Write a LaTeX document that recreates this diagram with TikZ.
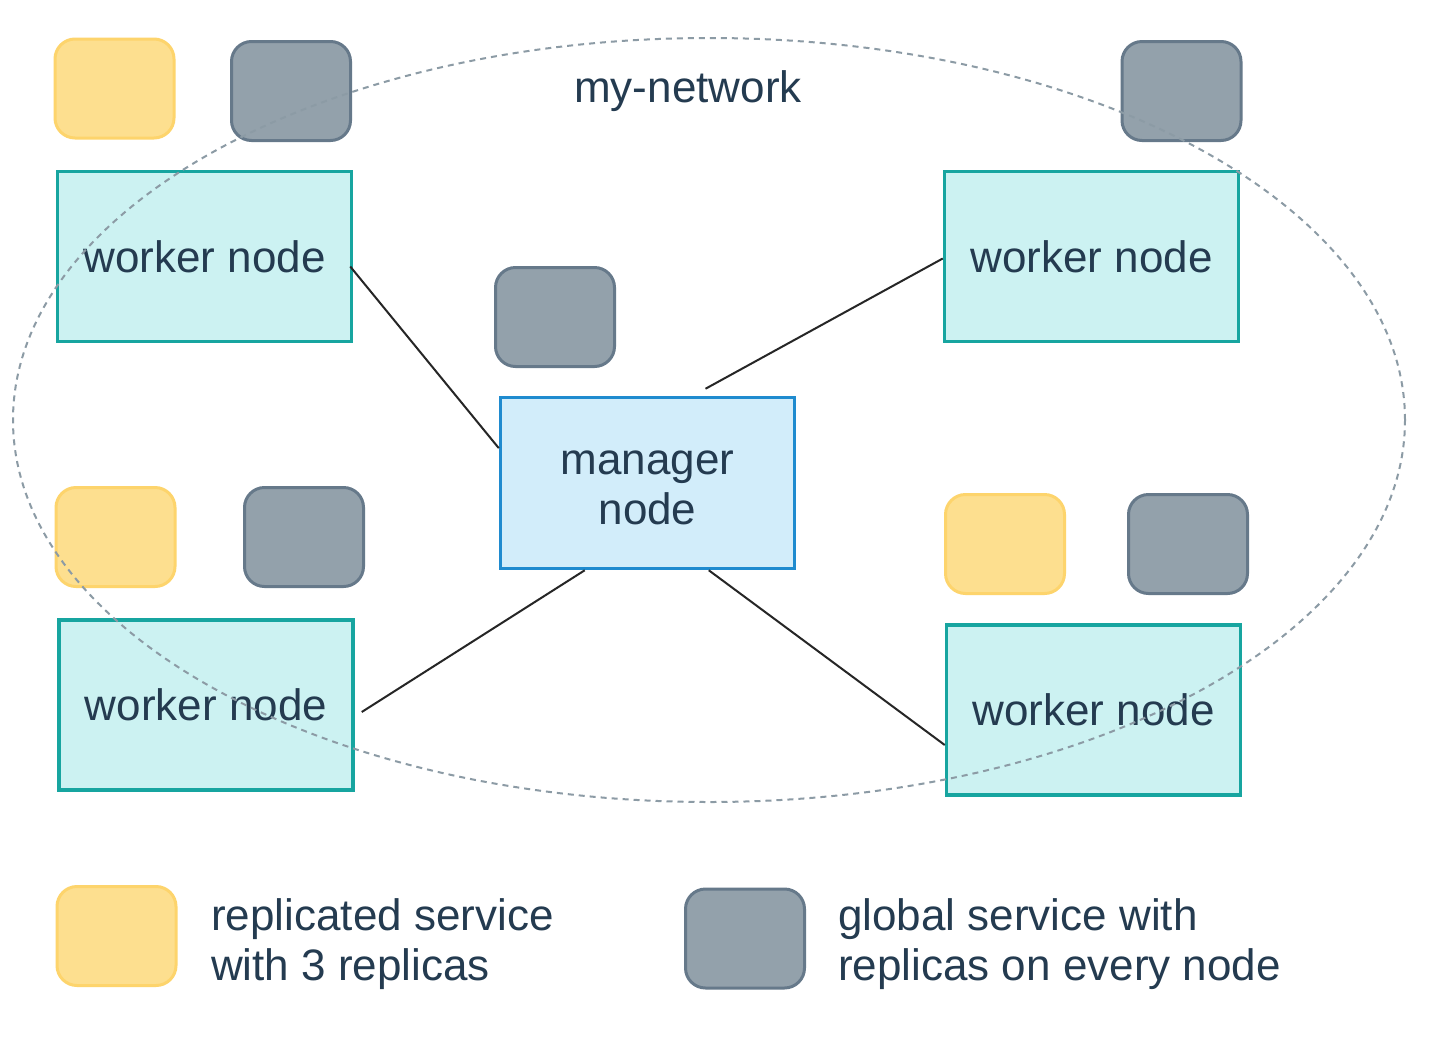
\documentclass[tikz,border=0pt]{standalone}
\usepackage{fontspec}
\setmainfont{Liberation Sans}
\usetikzlibrary{calc,shapes.geometric}
\definecolor{ink}{HTML}{243B50}
\definecolor{yfill}{HTML}{FDDF8F}
\definecolor{yline}{HTML}{FDD46C}
\definecolor{gfill}{HTML}{93A1AB}
\definecolor{gline}{HTML}{66798A}
\definecolor{wfill}{HTML}{CCF2F2}
\definecolor{wline}{HTML}{17A5A0}
\definecolor{mfill}{HTML}{D2EDFA}
\definecolor{mline}{HTML}{1F8BCF}
\definecolor{netline}{HTML}{8C9BA5}
\begin{document}
\begin{tikzpicture}[x=1pt,y=-1pt,
  every node/.style={font=\fontsize{44}{50}\selectfont, text=ink, inner sep=0pt},
  worker/.style={draw=wline, fill=wfill, line width=3.5pt, minimum width=294pt, minimum height=170pt},
  manager/.style={draw=mline, fill=mfill, line width=3.5pt, minimum width=294pt, minimum height=171pt},
  repl/.style={draw=yline, fill=yfill, line width=3pt, rounded corners=20pt, minimum width=119pt, minimum height=99pt},
  glob/.style={draw=gline, fill=gfill, line width=3pt, rounded corners=20pt, minimum width=119pt, minimum height=99pt},
  link/.style={draw=black!85, line width=2pt},
  legend/.style={anchor=west, align=left}
]
\useasboundingbox (0,0) rectangle (1438,1037);
\fill[white] (0,0) rectangle (1438,1037);

% service boxes
\node[repl] (yTL) at (114.5,88.5) {};
\node[glob] (gTL) at (291,91) {};
\node[glob] (gTR) at (1181.5,91) {};
\node[glob] (gM) at (555,317) {};
\node[repl] (yBL) at (115.5,537) {};
\node[glob] (gBL) at (304,537) {};
\node[repl] (yBR) at (1005,544) {};
\node[glob] (gBR) at (1188,544) {};

% nodes
\node[worker] (wTL) at (204.5,256.5) {worker node};
\node[worker] (wTR) at (1091.5,256.5) {worker node};
\node[worker] (wBL) at (206,705) {worker node};
\node[worker] (wBR) at (1093.5,710) {worker node};
\node[manager] (mgr) at (647.5,483) {};
\node[align=center] (mgrtext) at ($(mgr.center)+(0,5)$) {manager\\node};

% connectors
\draw[link] ($(wTL.east)+(-3,10)$) -- ($(mgr.north west)!0.3!(mgr.south west)$);
\draw[link] ($(mgr.north)+(58,-7)$) -- ($(wTR.west)+(0,2)$);
\draw[link] ($(mgr.south west)+(86,0)$) -- ($(wBL.east)+(7,7)$);
\draw[link] ($(mgr.south west)+(210,0)$) -- ($(wBR.west)+(0,35)$);

% network
\node (net) [ellipse, draw=netline, line width=2pt, dash pattern=on 6pt off 5pt, minimum width=1392pt, minimum height=764pt] at (709,420) {};
\node (netlabel) at (688,91) {my-network};

% legend
\node[repl] (lgY) at (116.5,936) {};
\node[legend] (lgYt) at (211,944) {replicated service\\with 3 replicas};
\node[glob] (lgG) at (745,938.5) {};
\node[legend] (lgGt) at (838,944) {global service with\\replicas on every node};
\end{tikzpicture}
\end{document}
